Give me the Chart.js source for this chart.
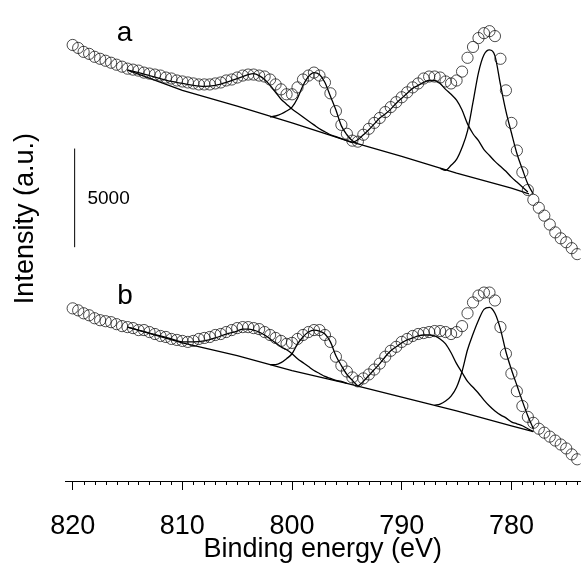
<!DOCTYPE html>
<html>
<head>
<meta charset="utf-8">
<script src="https://cdn.jsdelivr.net/npm/chart.js@4"></script>
<style>
  html, body { margin:0; padding:0; background:#fff; }
  #wrap { width:587px; height:563px; }
</style>
</head>
<body>
<div id="wrap"><canvas id="xps" width="587" height="563"></canvas></div>
<script>
// Co 2p XPS spectra, binding energy (eV) vs intensity (counts, b drawn below a)
const energies = [
  820, 819.5, 819, 818.5, 818, 817.5, 817, 816.5, 816, 815.5,
  815, 814.5, 814, 813.5, 813, 812.5, 812, 811.5, 811, 810.5,
  810, 809.5, 809, 808.5, 808, 807.5, 807, 806.5, 806, 805.5,
  805, 804.5, 804, 803.5, 803, 802.5, 802, 801.5, 801, 800.5,
  800, 799.5, 799, 798.5, 798, 797.5, 797, 796.5, 796, 795.5,
  795, 794.5, 794, 793.5, 793, 792.5, 792, 791.5, 791, 790.5,
  790, 789.5, 789, 788.5, 788, 787.5, 787, 786.5, 786, 785.5,
  785, 784.5, 784, 783.5, 783, 782.5, 782, 781.5, 781, 780.5,
  780, 779.5, 779, 778.5, 778, 777.5, 777, 776.5, 776, 775.5,
  775, 774.5, 774
];

const spectrumA = [
  22100, 21950, 21750, 21650, 21500, 21400, 21300, 21200, 21100, 21000,
  20900, 20850, 20800, 20700, 20650, 20600, 20550, 20450, 20400, 20300,
  20250, 20200, 20150, 20100, 20100, 20100, 20150, 20200, 20300, 20350,
  20450, 20550, 20600, 20600, 20550, 20500, 20350, 20100, 19850, 19600,
  19600, 19950, 20350, 20550, 20700, 20550, 20200, 19650, 18750, 18050,
  17600, 17250, 17200, 17550, 17850, 18150, 18400, 18700, 18950, 19200,
  19450, 19700, 19950, 20150, 20400, 20500, 20500, 20450, 20250, 20150,
  20300, 20750, 21450, 22000, 22450, 22700, 22800, 22550, 21400, 19800,
  18150, 16750, 15650, 14750, 14250, 13850, 13450, 13000, 12600, 12300,
  12100, 11800, 11500
];

const spectrumB = [
  8750, 8650, 8500, 8400, 8250, 8150, 8100, 8050, 7950, 7850,
  7800, 7750, 7650, 7650, 7550, 7450, 7350, 7300, 7200, 7150,
  7100, 7050, 7100, 7200, 7250, 7300, 7400, 7450, 7550, 7650,
  7750, 7800, 7800, 7750, 7700, 7550, 7400, 7250, 7100, 6950,
  7000, 7200, 7400, 7550, 7650, 7650, 7400, 7050, 6300, 5850,
  5550, 5250, 5050, 5200, 5400, 5650, 5950, 6300, 6600, 6800,
  7050, 7200, 7350, 7450, 7500, 7550, 7600, 7600, 7550, 7450,
  7550, 7850, 8500, 9050, 9400, 9550, 9550, 9150, 7800, 6450,
  5450, 4550, 3800, 3250, 2950, 2650, 2450, 2250, 2050, 1850,
  1650, 1350, 1100
];

// fitted background and components, spectrum a
const baseE = [815, 810, 805, 800, 795, 790, 785, 780, 778.4];
const baseA = [20820, 19800, 19000, 18150, 17250, 16450, 15600, 14850, 14550];

const sat804E = [815, 814, 813, 812, 811, 810, 809, 808, 807, 806, 805, 804.5, 804, 803.5, 803, 802.5,
  802, 801.5, 801, 800.5, 800, 799.5, 799, 798.5, 798, 797.5, 797, 796.5, 796, 795.5, 795, 794.5];
const sat804A = [20825, 20700, 20550, 20400, 20250, 20150, 20050, 20000, 20050, 20200, 20400, 20500, 20600, 20650, 20550, 20350,
  20050, 19700, 19350, 19100, 18850, 18650, 18450, 18250, 18050, 17850, 17700, 17550, 17450, 17350, 17250, 17150];

const p798E = [802, 801.5, 801, 800.5, 800, 799.5, 799, 798.5, 798, 797.5, 797, 796.5, 796, 795.5, 795, 794.5, 794];
const p798A = [18450, 18500, 18600, 18750, 18950, 19400, 20050, 20500, 20700, 20600, 20200, 19500, 18800, 18000, 17550, 17250, 17100];

const sat787E = [794.5, 794, 793.5, 793, 792.5, 792, 791.5, 791, 790.5, 790, 789.5, 789, 788.5, 788, 787.5, 787, 786.5,
  786, 785.5, 785, 784.5, 784, 783.5, 783, 782.5, 782, 781.5, 781, 780.5, 780, 779.5, 779, 778.5];
const sat787A = [17150, 17300, 17550, 17800, 18100, 18400, 18600, 18850, 19150, 19400, 19650, 19900, 20050, 20200, 20300, 20300, 20150,
  19850, 19600, 19300, 18800, 18100, 17600, 17250, 16800, 16500, 16200, 15950, 15700, 15400, 15150, 14900, 14650];

const p782E = [786.5, 786, 785.5, 785, 784.5, 784, 783.5, 783, 782.5, 782, 781.5, 781, 780.5, 780, 779.5, 779, 778.5, 778];
const p782A = [15850, 15750, 16000, 16300, 16900, 17750, 19200, 20700, 21600, 21850, 21550, 20100, 18750, 17650, 16600, 15800, 15050, 14550];

// fitted background and components, spectrum b
const baseEB = [815, 810, 805, 800, 795, 790, 785, 780, 778];
const baseB = [7800, 7000, 6350, 5600, 4950, 4250, 3550, 2800, 2500];

const sat804EB = [815, 814, 813, 812, 811, 810, 809, 808, 807, 806, 805, 804.5, 804, 803.5, 803, 802.5,
  802, 801.5, 801, 800.5, 800, 799.5, 799, 798.5, 798, 797.5, 797, 796.5, 796, 795.5, 795];
const sat804B = [7800, 7650, 7500, 7350, 7200, 7050, 7050, 7100, 7250, 7450, 7600, 7700, 7700, 7650, 7550, 7400,
  7200, 7000, 6800, 6650, 6450, 6200, 6000, 5800, 5600, 5450, 5300, 5200, 5100, 5050, 4950];

const p798B = [5900, 5900, 6000, 6200, 6450, 6950, 7300, 7550, 7650, 7600, 7450, 7050, 6350, 5850, 5400, 5100, 4800];

const sat787EB = [794, 793.5, 793, 792.5, 792, 791.5, 791, 790.5, 790, 789.5, 789, 788.5, 788, 787.5, 787, 786.5,
  786, 785.5, 785, 784.5, 784, 783.5, 783, 782.5, 782, 781.5, 781, 780.5, 780, 779.5, 779, 778.5, 778];
const sat787B = [4800, 5050, 5350, 5650, 5950, 6300, 6600, 6800, 7000, 7150, 7250, 7350, 7400, 7400, 7350, 7200,
  6950, 6500, 5950, 5500, 5050, 4750, 4450, 4100, 3800, 3550, 3350, 3200, 3000, 2900, 2800, 2650, 2500];

const p782EB = [787, 786.5, 786, 785.5, 785, 784.5, 784, 783.5, 783, 782.5, 782, 781.5, 781, 780.5, 780, 779.5, 779, 778.5, 778];
const p782B = [3850, 3900, 4050, 4300, 4750, 5550, 6650, 7450, 8150, 8700, 8800, 8500, 7700, 6550, 5650, 4850, 4050, 3300, 2650];

// scale bar: 5000 counts
const barE = 819.82;
const barFrom = 11850;
const barSize = 5000;

const majorTicks = [820, 810, 800, 790, 780];
const FONT = "'Liberation Sans', Arial, Helvetica, sans-serif";

function pts(xs, ys){ return xs.map((x, i) => ({ x, y: ys[i] })); }

function fitLine(xs, ys, straight){
  return {
    data: pts(xs, ys),
    borderColor: '#000',
    borderWidth: 1.3,
    pointRadius: 0,
    fill: false,
    cubicInterpolationMode: straight ? 'default' : 'monotone',
    tension: straight ? 0 : 0.4
  };
}

function circles(ys){
  return {
    data: pts(energies, ys),
    showLine: false,
    pointStyle: 'circle',
    pointRadius: 5.6,
    pointBorderWidth: 0.9,
    pointBorderColor: 'rgba(20,20,20,0.85)',
    pointBackgroundColor: 'rgba(0,0,0,0)'
  };
}

// minor ticks every 1 eV under the axis
const minorTicks = {
  id: 'minorTicks',
  afterDraw(chart){
    const { ctx, scales: { x } } = chart;
    const y0 = chart.chartArea.bottom;
    ctx.save();
    ctx.strokeStyle = '#000';
    ctx.lineWidth = 1;
    ctx.beginPath();
    for (let e = 774; e <= 820; e++) {
      if (e % 10 === 0) continue;
      const px = Math.round(x.getPixelForValue(e)) + 0.5;
      ctx.moveTo(px, y0);
      ctx.lineTo(px, y0 + 4);
    }
    ctx.stroke();
    ctx.restore();
  }
};

// panel letters, scale bar value and y title
const labels = {
  id: 'labels',
  afterDraw(chart){
    const { ctx, scales: { x, y } } = chart;
    ctx.save();
    ctx.fillStyle = '#000';
    ctx.textAlign = 'center';
    ctx.textBaseline = 'alphabetic';
    ctx.font = '28px ' + FONT;
    ctx.fillText('a', x.getPixelForValue(815.27), y.getPixelForValue(22300));
    ctx.fillText('b', x.getPixelForValue(815.23), y.getPixelForValue(8950));

    ctx.textAlign = 'left';
    ctx.font = '19px ' + FONT;
    ctx.fillText('5000', x.getPixelForValue(818.65), y.getPixelForValue(14050));

    ctx.translate(x.left - 39, y.getPixelForValue(13300));
    ctx.rotate(-Math.PI / 2);
    ctx.textAlign = 'center';
    ctx.textBaseline = 'middle';
    ctx.font = '27px ' + FONT;
    ctx.fillText('Intensity (a.u.)', 0, 0);
    ctx.restore();
  }
};

new Chart(document.getElementById('xps'), {
  type: 'line',
  data: {
    datasets: [
      circles(spectrumA),
      circles(spectrumB),
      fitLine(baseE, baseA, true),
      fitLine(sat804E, sat804A),
      fitLine(p798E, p798A),
      fitLine(sat787E, sat787A),
      fitLine(p782E, p782A),
      fitLine(baseEB, baseB, true),
      fitLine(sat804EB, sat804B),
      fitLine(p798E, p798B),
      fitLine(sat787EB, sat787B),
      fitLine(p782EB, p782B),
      { data: [{ x: barE, y: barFrom }, { x: barE, y: barFrom + barSize }],
        borderColor: '#000', borderWidth: 1, pointRadius: 0, tension: 0 }
    ]
  },
  options: {
    responsive: false,
    animation: false,
    layout: { padding: 0 },
    plugins: { legend: { display: false }, tooltip: { enabled: false } },
    scales: {
      x: {
        type: 'linear',
        reverse: true,
        min: 773.7,
        max: 820.7,
        afterBuildTicks: s => { s.ticks = majorTicks.map(v => ({ value: v })); },
        afterFit: s => { s.height = 82; },
        grid: { display: true, drawOnChartArea: false, drawTicks: true, tickLength: 9, tickColor: '#000', tickWidth: 1 },
        border: { display: true, color: '#000', width: 1 },
        ticks: { color: '#000', padding: 20, maxRotation: 0, autoSkip: false, font: { family: FONT, size: 27 } },
        title: {
          display: true,
          text: 'Binding energy (eV)',
          color: '#000',
          font: { family: FONT, size: 27, lineHeight: 1 },
          padding: { top: 0, bottom: 0 }
        }
      },
      y: {
        type: 'linear',
        min: 0,
        max: 24050,
        afterFit: s => { s.width = 65; },
        grid: { display: false },
        border: { display: false },
        ticks: { display: false }
      }
    }
  },
  plugins: [minorTicks, labels]
});
</script>
</body>
</html>
